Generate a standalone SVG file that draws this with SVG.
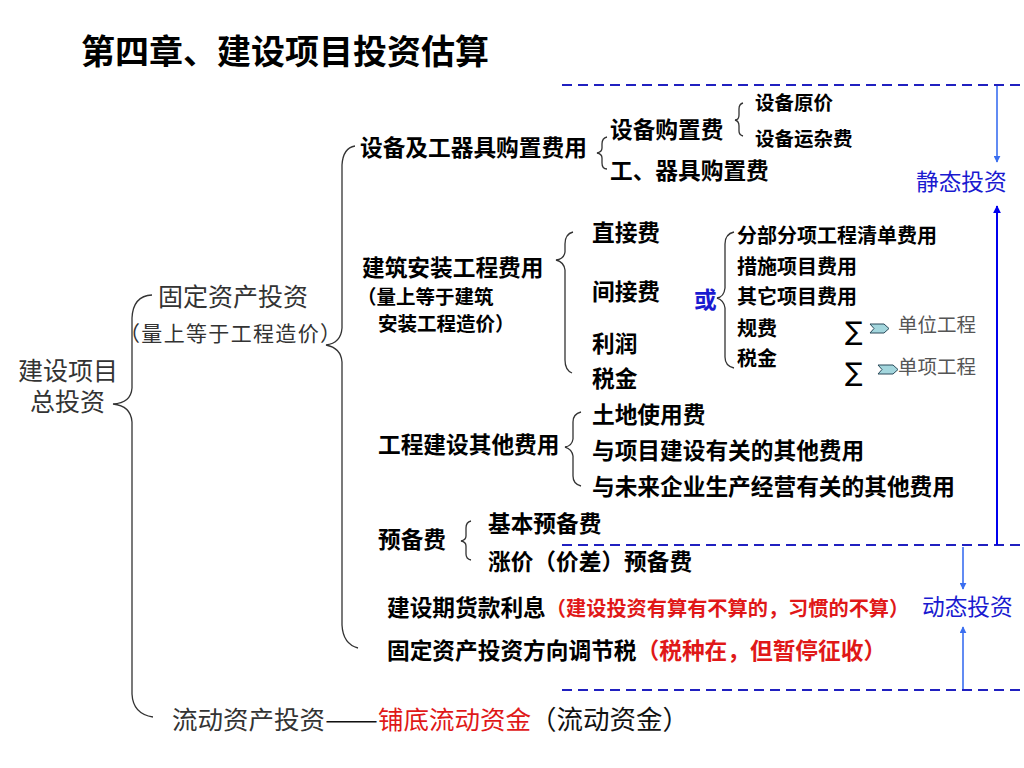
<svg xmlns="http://www.w3.org/2000/svg" width="1024" height="768" viewBox="0 0 1024 768">
<defs>
<style>
text{font-family:"Noto Sans CJK SC","Noto Sans",sans-serif;}
.b{font-weight:bold;fill:#000;}
.s22{font-size:22.7px;}
.s19{font-size:19.5px;}
.s20{font-size:20px;}
.lt{font-weight:normal;fill:#333;font-size:25px;}
.red{fill:#e01818;}
.blue{fill:#1a1ad0;}
.gray{font-weight:normal;fill:#555;font-size:19.5px;}
.brace{fill:none;stroke:#333;stroke-width:1.3;}
.dash{fill:none;stroke:#2020c0;stroke-width:2;stroke-dasharray:10 6;}
.arr{fill:none;stroke:#3a6ef0;stroke-width:1.6;}
.arr2{fill:none;stroke:#0000ee;stroke-width:2;}
.chev{fill:#a3d6dd;stroke:#2a4a5a;stroke-width:1;}
.sig{font-family:"DejaVu Sans","Liberation Sans",sans-serif;font-size:26px;fill:#000;}
</style>
<marker id="ah" viewBox="0 0 10 10" refX="9" refY="5" markerWidth="7" markerHeight="7" orient="auto-start-reverse" markerUnits="userSpaceOnUse">
<path d="M0,0 L10,5 L0,10 z" fill="#3a6ef0"/>
</marker>
<marker id="ah2" viewBox="0 0 10 10" refX="9" refY="5" markerWidth="8" markerHeight="8" orient="auto-start-reverse" markerUnits="userSpaceOnUse">
<path d="M0,0 L10,5 L0,10 z" fill="#0000ee"/>
</marker>
</defs>
<rect width="1024" height="768" fill="#fff"/>

<g id="title"><text x="81" y="64" class="b" style="font-size:34px">第四章、建设项目投资估算</text></g>

<g id="connectors">
<path class="brace" d="M152,295 Q133,296 132,318 L132,388 Q131,403 113,404 Q131,406 132,422 L132,694 Q133,714 153,717"/>
<path class="brace" d="M355,146 Q343,148 342,165 L342,328 Q341,343 326,345 Q341,348 342,362 L342,625 Q343,644 358,648"/>
<path class="brace" d="M607,137 Q602,138 602,144 L602,148 Q602,152 597,153 Q602,154 602,158 L602,163 Q602,169 607,169"/>
<path class="brace" d="M743,103 Q739,104 739,109 L739,115 Q739,120 735,120 Q739,121 739,126 L739,131 Q739,135 743,136"/>
<path class="brace" d="M573,232 Q565,234 565,244 L565,252 Q564,259 556,260 Q564,262 565,270 L565,360 Q565,370 572,373"/>
<path class="brace" d="M734,232 Q725,234 725,244 L725,288 Q724,297 717,298 Q724,300 725,308 L725,357 Q725,366 734,368"/>
<path class="brace" d="M581,412 Q573,414 573,422 L573,439 Q572,446 565,447 Q572,449 573,456 L573,476 Q573,484 581,486"/>
<path class="brace" d="M471,521 Q466,522 466,528 L466,536 Q466,540 461,541 Q466,542 466,546 L466,554 Q466,559 471,560"/>
<line class="dash" x1="562" y1="85" x2="1024" y2="85"/>
<line class="dash" x1="562" y1="545" x2="1024" y2="545"/>
<line class="dash" x1="562" y1="690" x2="1024" y2="690"/>
<line class="arr" x1="997" y1="86" x2="997" y2="162" marker-end="url(#ah)"/>
<line class="arr2" x1="997" y1="545" x2="997" y2="206" marker-end="url(#ah2)"/>
<line class="arr" x1="963" y1="547" x2="963" y2="589" marker-end="url(#ah)"/>
<line class="arr" x1="963" y1="689" x2="963" y2="627" marker-end="url(#ah)"/>
</g>

<g id="n-total"><text class="lt"><tspan x="18" y="380">建设项目</tspan><tspan x="30" y="411">总投资</tspan></text></g>
<g id="n-fixed"><text x="158" y="306" class="lt">固定资产投资</text><text x="119" y="341" class="lt" style="font-size:21px" textLength="222" lengthAdjust="spacing">（量上等于工程造价）</text></g>
<g id="n-current"><text x="172" y="729" class="lt" style="font-size:25.5px">流动资产投资</text><text x="325" y="729" class="lt" style="font-size:25.5px;fill:#111" textLength="53" lengthAdjust="spacingAndGlyphs">——</text><text x="378" y="729" class="lt red" style="font-size:25.5px">铺底流动资金</text><text x="530" y="729" class="lt" style="font-size:26.5px;fill:#111">（流动资金）</text></g>

<g id="n-equip"><text x="360" y="156" class="b s22">设备及工器具购置费用</text></g>
<g id="n-equip-buy"><text x="610" y="138" class="b s22">设备购置费</text></g>
<g id="n-tool"><text x="610" y="179" class="b s22">工、器具购置费</text></g>
<g id="n-orig"><text x="755" y="110" class="b s19">设备原价</text></g>
<g id="n-trans"><text x="755" y="146" class="b s19">设备运杂费</text></g>

<g id="n-build"><text x="362" y="276" class="b s22">建筑安装工程费用</text><text x="357" y="304" class="b s19">（量上等于建筑</text><text x="378" y="331" class="b s19">安装工程造价）</text></g>
<g id="n-direct"><text x="592" y="241" class="b s22">直接费</text></g>
<g id="n-indirect"><text x="592" y="300" class="b s22">间接费</text></g>
<g id="n-profit"><text x="592" y="352" class="b s22">利润</text></g>
<g id="n-tax"><text x="592" y="387" class="b s22">税金</text></g>
<g id="n-or"><text x="694" y="308" class="b s22 blue">或</text></g>
<g id="n-fb"><text x="737" y="243" class="b s20">分部分项工程清单费用</text></g>
<g id="n-cs"><text x="737" y="274" class="b s20">措施项目费用</text></g>
<g id="n-qt"><text x="737" y="304" class="b s20">其它项目费用</text></g>
<g id="n-gf"><text x="737" y="336" class="b s20">规费</text></g>
<g id="n-sj"><text x="737" y="366" class="b s20">税金</text></g>
<g id="n-unit"><text x="845" y="340" class="sig">∑</text><path class="chev" d="M870,324 L884,324 L889,328.5 L884,333 L870,333 L874,328.5 Z"/><text x="898" y="332" class="gray">单位工程</text></g>
<g id="n-item"><text x="845" y="381" class="sig">∑</text><path class="chev" d="M878,365 L893,365 L898,369.5 L893,374 L878,374 L882,369.5 Z"/><text x="898" y="374" class="gray">单项工程</text></g>

<g id="n-other"><text x="378" y="453" class="b s22">工程建设其他费用</text></g>
<g id="n-land"><text x="592" y="423" class="b s22">土地使用费</text></g>
<g id="n-proj"><text x="592" y="459" class="b s22">与项目建设有关的其他费用</text></g>
<g id="n-future"><text x="592" y="495" class="b s22">与未来企业生产经营有关的其他费用</text></g>

<g id="n-reserve"><text x="378" y="548" class="b s22">预备费</text></g>
<g id="n-basic"><text x="488" y="532" class="b s22">基本预备费</text></g>
<g id="n-price"><text x="488" y="570" class="b s22">涨价（价差）预备费</text></g>

<g id="n-interest"><text x="387" y="616" class="b s22">建设期货款利息<tspan class="red" style="font-size:20.2px">（建设投资有算有不算的，习惯的不算）</tspan></text></g>
<g id="n-adjtax"><text x="387" y="659" class="b s22">固定资产投资方向调节税<tspan class="red">（税种在，但暂停征收）</tspan></text></g>

<g id="n-static"><text x="916" y="190" class="s22 blue">静态投资</text></g>
<g id="n-dynamic"><text x="922" y="615" class="s22 blue">动态投资</text></g>
</svg>
